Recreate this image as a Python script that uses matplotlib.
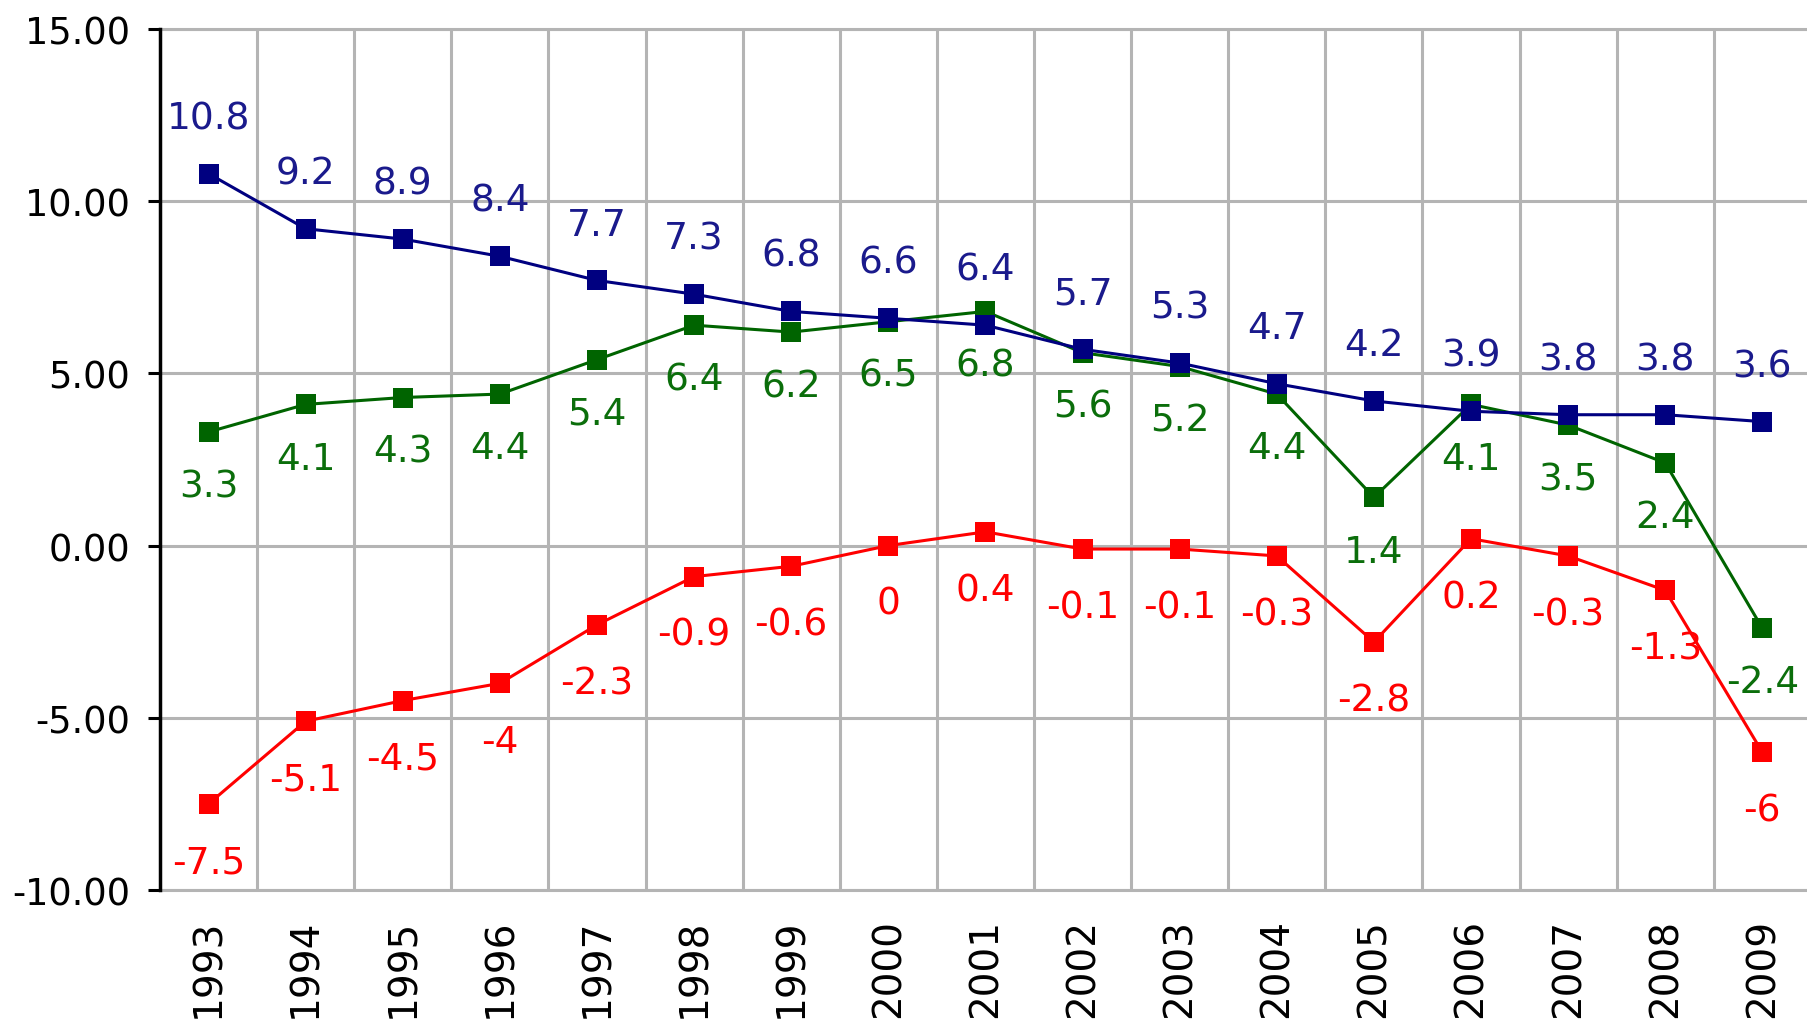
import numpy as np
import matplotlib
matplotlib.use("Agg")
import matplotlib.pyplot as plt

years = ['1993', '1994', '1995', '1996', '1997', '1998', '1999', '2000', '2001',
         '2002', '2003', '2004', '2005', '2006', '2007', '2008', '2009']

blue_vals = [10.8, 9.2, 8.9, 8.4, 7.7, 7.3, 6.8, 6.6, 6.4, 5.7, 5.3, 4.7, 4.2, 3.9, 3.8, 3.8, 3.6]
green_vals = [3.3, 4.1, 4.3, 4.4, 5.4, 6.4, 6.2, 6.5, 6.8, 5.6, 5.2, 4.4, 1.4, 4.1, 3.5, 2.4, -2.4]
red_vals = [-7.5, -5.1, -4.5, -4, -2.3, -0.9, -0.6, 0, 0.4, -0.1, -0.1, -0.3, -2.8, 0.2, -0.3, -1.3, -6]

y_ticks = [-10, -5, 0, 5, 10, 15]

plt.rcParams['axes.unicode_minus'] = False
plt.rcParams['font.family'] = 'DejaVu Sans'

fig = plt.figure(figsize=(18.08, 10.2), dpi=100)
ax = fig.add_axes([160 / 1808, 1 - 891 / 1020, 1 - 160 / 1808, (891 - 30) / 1020])

x = np.arange(len(years))
grid_col = '#b4b4b4'

# series: (values, line colour, label colour, label offset in points)
series = [
    (red_vals, '#ff0000', '#ff0000', -42),
    (green_vals, '#006400', '#0b6e0b', -39),
    (blue_vals, '#000080', '#1a1a8c', 40),
]

for vals, col, tcol, off in series:
    ax.plot(x, vals, color=col, lw=2.2, marker='s', markersize=14,
            markeredgewidth=0, zorder=3)

for vals, col, tcol, off in series:
    for xi, v in zip(x, vals):
        ax.annotate('%g' % v, (xi, v), xytext=(0, off), textcoords='offset points',
                    ha='center', va='center', fontsize=27, color=tcol, zorder=4)

ax.set_xlim(-0.5, 16.47)
ax.set_ylim(-10, 15)
ax.set_yticks(y_ticks)
ax.set_yticklabels(['%.2f' % t for t in y_ticks])
ax.set_xticks(x)
ax.set_xticklabels(years, rotation=90, va='top')
ax.set_xticks(np.arange(0.5, 16, 1), minor=True)

ax.tick_params(axis='y', labelsize=26.5, length=8.5, width=2.2, pad=13, color='black')
ax.tick_params(axis='x', which='both', length=0, labelsize=28, pad=20)

ax.grid(axis='y', which='major', color=grid_col, lw=2.2, zorder=1)
ax.grid(axis='x', which='minor', color=grid_col, lw=2.2, zorder=1)
ax.grid(axis='x', which='major', visible=False)
ax.set_axisbelow(True)

ax.spines['right'].set_visible(False)
ax.spines['top'].set_color(grid_col)
ax.spines['top'].set_linewidth(2.2)
ax.spines['bottom'].set_color(grid_col)
ax.spines['bottom'].set_linewidth(2.2)
ax.spines['left'].set_color('black')
ax.spines['left'].set_linewidth(2.5)
ax.spines['left'].set_zorder(5)

fig.savefig('out.png', dpi=100)
